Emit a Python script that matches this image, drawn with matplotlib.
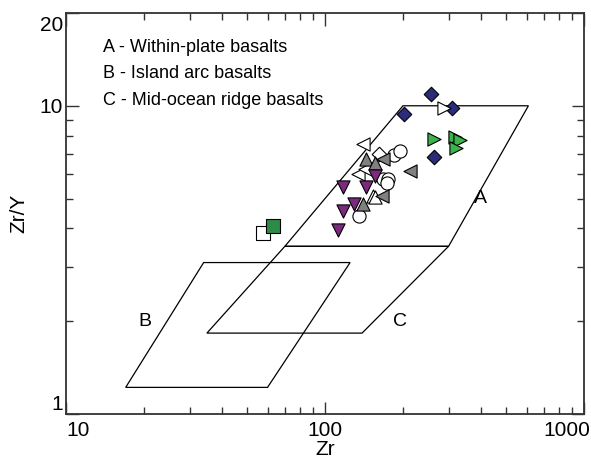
import matplotlib.pyplot as plt
from matplotlib.ticker import FixedLocator, NullFormatter, FixedFormatter
from matplotlib.transforms import ScaledTranslation

plt.rcParams['font.family'] = ['Liberation Sans', 'DejaVu Sans']

# Discrimination fields (Zr ppm, Zr/Y)
field_a_zr = [200, 610, 300, 70]
field_a_ratio = [10, 10, 3.5, 3.5]
field_b_zr = [17, 60, 125, 34]
field_b_ratio = [1.22, 1.22, 3.1, 3.1]
field_c_zr = [35, 139, 300, 70]
field_c_ratio = [1.83, 1.83, 3.5, 3.5]

# Samples, grouped by symbol
navy_d_zr = [257, 202, 309, 264]
navy_d_ratio = [10.9, 9.4, 9.8, 6.8]
white_d_zr = [162]
white_d_ratio = [7.0]
green_r_zr = [264, 318, 332, 320]
green_r_ratio = [7.8, 7.9, 7.75, 7.3]
white_r_zr = [288]
white_r_ratio = [9.8]
white_l_zr = [140, 134, 143]
white_l_ratio = [7.5, 6.0, 6.25]
gray_l_zr = [168, 213, 166]
gray_l_ratio = [6.7, 6.15, 5.1]
gray_u_zr = [144, 156, 140]
gray_u_ratio = [6.7, 6.5, 4.8]
white_u_zr = [153, 156]
white_u_ratio = [5.1, 5.05]
purple_v_zr = [156, 117, 144, 129, 117, 112]
purple_v_ratio = [5.9, 5.45, 5.45, 4.8, 4.55, 3.95]
circle_zr = [185, 195, 168, 175, 174, 135]
circle_ratio = [6.9, 7.15, 5.8, 5.8, 5.6, 4.4]
white_s_zr = [57.6]
white_s_ratio = [3.87]
green_s_zr = [63]
green_s_ratio = [4.08]

field_names = ['A - Within-plate basalts', 'B - Island arc basalts',
               'C - Mid-ocean ridge basalts']

fig = plt.figure(figsize=(5.91, 4.59), dpi=100)
ax = fig.add_axes([66 / 591, 1 - 414 / 459, 518 / 591, 401 / 459])
ax.set_xscale('log')
ax.set_yscale('log')
ax.set_xlim(10, 1000)
ax.set_ylim(1, 20)

for zr, ratio in [(field_a_zr, field_a_ratio), (field_b_zr, field_b_ratio),
                  (field_c_zr, field_c_ratio)]:
    ax.fill(zr, ratio, fc='none', ec='black', lw=0.9, zorder=1)

ax.text(400, 5.0, 'A', fontsize=14, ha='center', va='center')
ax.text(20.2, 1.99, 'B', fontsize=14, ha='center', va='center')
ax.text(195, 1.99, 'C', fontsize=14, ha='center', va='center')

pts = [
    (white_s_zr, white_s_ratio, 's', 'white'),
    (green_s_zr, green_s_ratio, 's', '#2e8b47'),
    (circle_zr, circle_ratio, 'o', 'white'),
    (white_l_zr, white_l_ratio, '<', 'white'),
    (white_u_zr, white_u_ratio, '^', 'white'),
    (white_d_zr, white_d_ratio, 'D', 'white'),
    (gray_l_zr, gray_l_ratio, '<', '#808080'),
    (gray_u_zr, gray_u_ratio, '^', '#808080'),
    (purple_v_zr, purple_v_ratio, 'v', '#7b2a7d'),
    (navy_d_zr, navy_d_ratio, 'D', '#2c2c7c'),
    (white_r_zr, white_r_ratio, '>', 'white'),
    (green_r_zr, green_r_ratio, '>', '#3cb44b'),
]
for zr, ratio, mk, fc in pts:
    size = 55 if mk == 'D' else 90
    ax.scatter(zr, ratio, marker=mk, s=size, fc=fc, ec='black', lw=0.8, zorder=3)

for i, name in enumerate(field_names):
    ax.text(0.071, 0.913 - i * 0.065, name, transform=ax.transAxes,
            fontsize=13, va='center')

ax.xaxis.set_major_locator(FixedLocator([10, 100, 1000]))
ax.xaxis.set_major_formatter(FixedFormatter(['10', '100', '1000']))
ax.xaxis.set_minor_locator(FixedLocator([m * d for d in (10, 100) for m in range(2, 10)]))
ax.xaxis.set_minor_formatter(NullFormatter())
ax.yaxis.set_major_locator(FixedLocator([1, 10, 20]))
ax.yaxis.set_major_formatter(FixedFormatter(['1', '10', '20']))
ax.yaxis.set_minor_locator(FixedLocator(list(range(2, 10))))
ax.yaxis.set_minor_formatter(NullFormatter())
ax.tick_params(which='both', direction='in', top=True, right=True, width=1,
               labelsize=15, color='#333333')
ax.tick_params(axis='x', pad=5)
ax.tick_params(axis='y', pad=2)
ax.tick_params(which='major', length=9)
ax.tick_params(which='minor', length=5)
for sp in ax.spines.values():
    sp.set_linewidth(1.3)
    sp.set_color('#333333')

# keep the end tick labels inside the frame
fig.canvas.draw()
xl = ax.get_xticklabels()
xl[0].set_horizontalalignment('left')
xl[-1].set_horizontalalignment('right')
xl[-1].set_transform(xl[-1].get_transform() + ScaledTranslation(6 / 100, 0, fig.dpi_scale_trans))
yl = ax.get_yticklabels()
yl[0].set_verticalalignment('bottom')
yl[-1].set_verticalalignment('top')
yl[-1].set_transform(yl[-1].get_transform() + ScaledTranslation(0, -3 / 100, fig.dpi_scale_trans))

ax.set_xlabel('Zr', fontsize=15, labelpad=0)
ax.set_ylabel('Zr/Y', fontsize=15, labelpad=8)

fig.savefig('out.png', dpi=100)
